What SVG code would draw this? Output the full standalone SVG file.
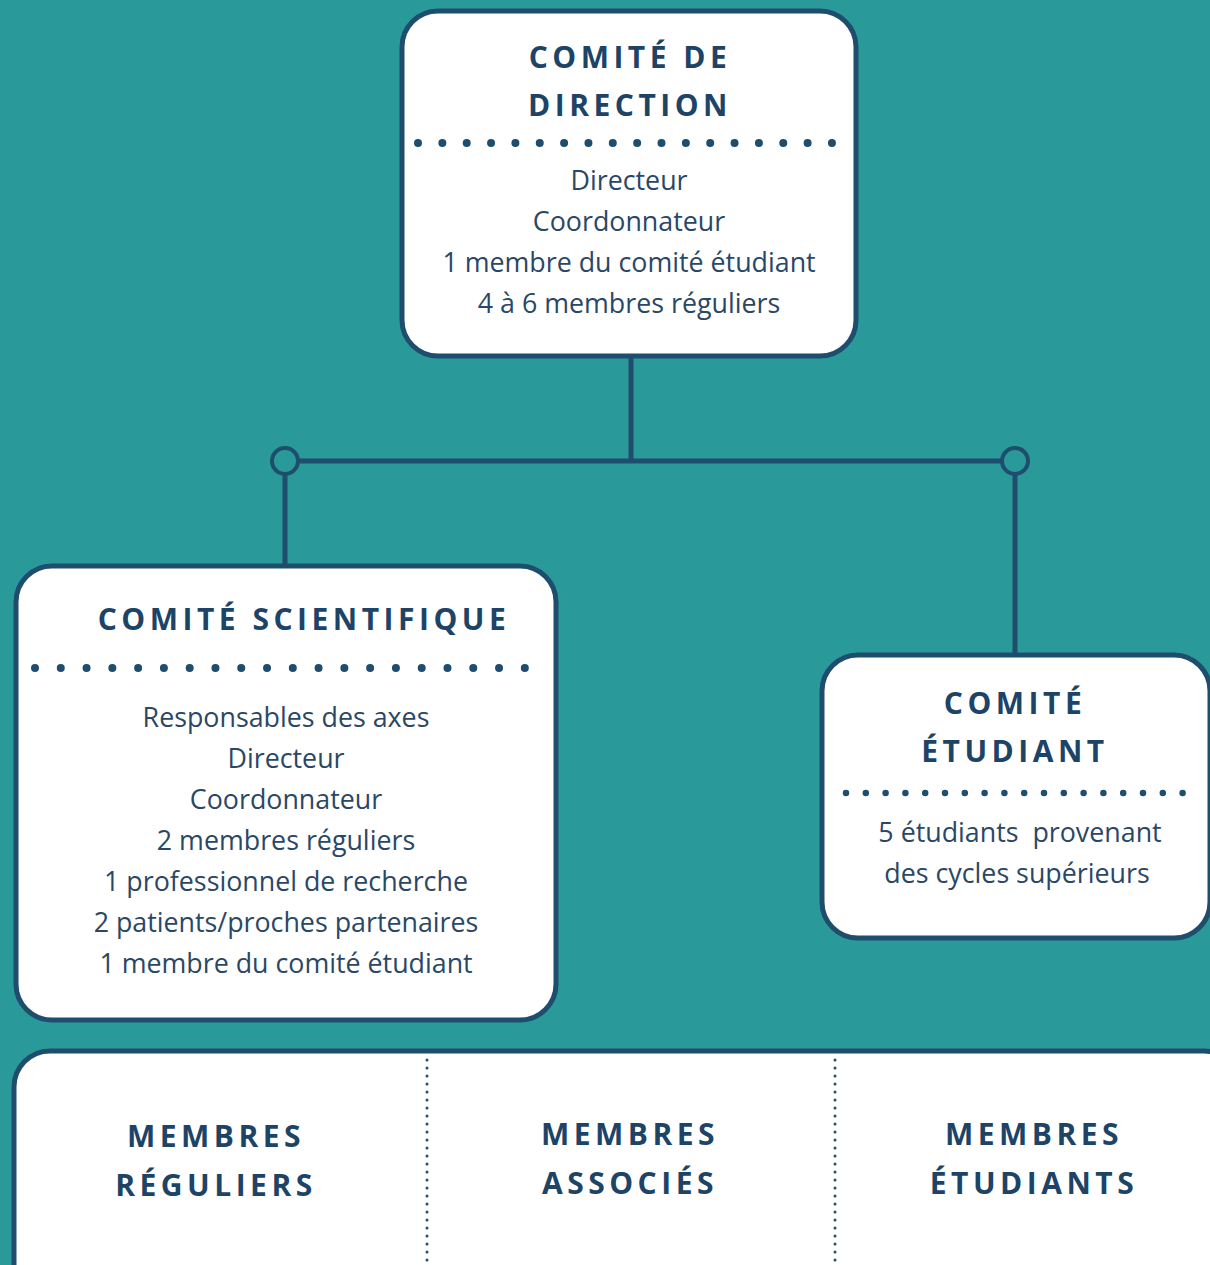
<svg xmlns="http://www.w3.org/2000/svg" width="1210" height="1265" viewBox="0 0 1210 1265">
<style>
.box{fill:#ffffff;stroke:#1f4d6d;stroke-width:5}
.title{font-family:"Open Sans","Noto Sans",sans-serif;font-weight:700;font-size:30px;letter-spacing:4.5px;fill:#1d4467;text-anchor:middle}
.body{font-family:"Open Sans","Noto Sans",sans-serif;font-size:26.8px;fill:#2a4766;text-anchor:middle}
.dots{stroke:#1f4d6d;stroke-linecap:round;fill:none}
.conn{stroke:#1f4d6d;stroke-width:5;fill:none}
.knot{fill:#2a9999;stroke:#1f4d6d;stroke-width:4}
</style>
<rect x="0" y="0" width="1210" height="1265" fill="#2a9999"/>
<g id="connectors">
<path class="conn" d="M631 357 V461 M285 461 H1015 M285 474 V566 M1015 474 V655"/>
<circle class="knot" cx="285" cy="461" r="13"/>
<circle class="knot" cx="1015" cy="461" r="13"/>
</g>
<g id="comite-direction">
<rect class="box" x="402" y="11" width="454" height="345" rx="36"/>
<text class="title" x="630" y="68">COMITÉ DE</text>
<text class="title" x="630" y="116">DIRECTION</text>
<line class="dots" x1="418" y1="143" x2="832" y2="143" stroke-width="8" stroke-dasharray="0 24.35"/>
<text class="body" x="629" y="190">Directeur</text>
<text class="body" x="629" y="231">Coordonnateur</text>
<text class="body" x="629" y="272">1 membre du comité étudiant</text>
<text class="body" x="629" y="313">4 à 6 membres réguliers</text>
</g>
<g id="comite-scientifique">
<rect class="box" x="16" y="566" width="540" height="454" rx="36"/>
<text class="title" x="304" y="630">COMITÉ SCIENTIFIQUE</text>
<line class="dots" x1="35" y1="668" x2="525" y2="668" stroke-width="8" stroke-dasharray="0 25.78"/>
<text class="body" x="286" y="727">Responsables des axes</text>
<text class="body" x="286" y="768">Directeur</text>
<text class="body" x="286" y="809">Coordonnateur</text>
<text class="body" x="286" y="850">2 membres réguliers</text>
<text class="body" x="286" y="891">1 professionnel de recherche</text>
<text class="body" x="286" y="932">2 patients/proches partenaires</text>
<text class="body" x="286" y="973">1 membre du comité étudiant</text>
</g>
<g id="comite-etudiant">
<rect class="box" x="822" y="655" width="388" height="283" rx="36"/>
<text class="title" x="1015" y="714">COMITÉ</text>
<text class="title" x="1015" y="762">ÉTUDIANT</text>
<line class="dots" x1="846" y1="793" x2="1183" y2="793" stroke-width="6.5" stroke-dasharray="0 19.8"/>
<text class="body" x="1020" y="842" xml:space="preserve">5 étudiants  provenant</text>
<text class="body" x="1017" y="883">des cycles supérieurs</text>
</g>
<g id="membres">
<rect class="box" x="14" y="1051" width="1226" height="260" rx="36"/>
<line class="dots" x1="427" y1="1060" x2="427" y2="1262" stroke-width="3" stroke-dasharray="0 8"/>
<line class="dots" x1="835" y1="1060" x2="835" y2="1262" stroke-width="3" stroke-dasharray="0 8"/>
<text class="title" x="216" y="1147">MEMBRES</text>
<text class="title" x="216" y="1196">RÉGULIERS</text>
<text class="title" x="630" y="1145">MEMBRES</text>
<text class="title" x="630" y="1194">ASSOCIÉS</text>
<text class="title" x="1034" y="1145">MEMBRES</text>
<text class="title" x="1034" y="1194">ÉTUDIANTS</text>
</g>
</svg>
